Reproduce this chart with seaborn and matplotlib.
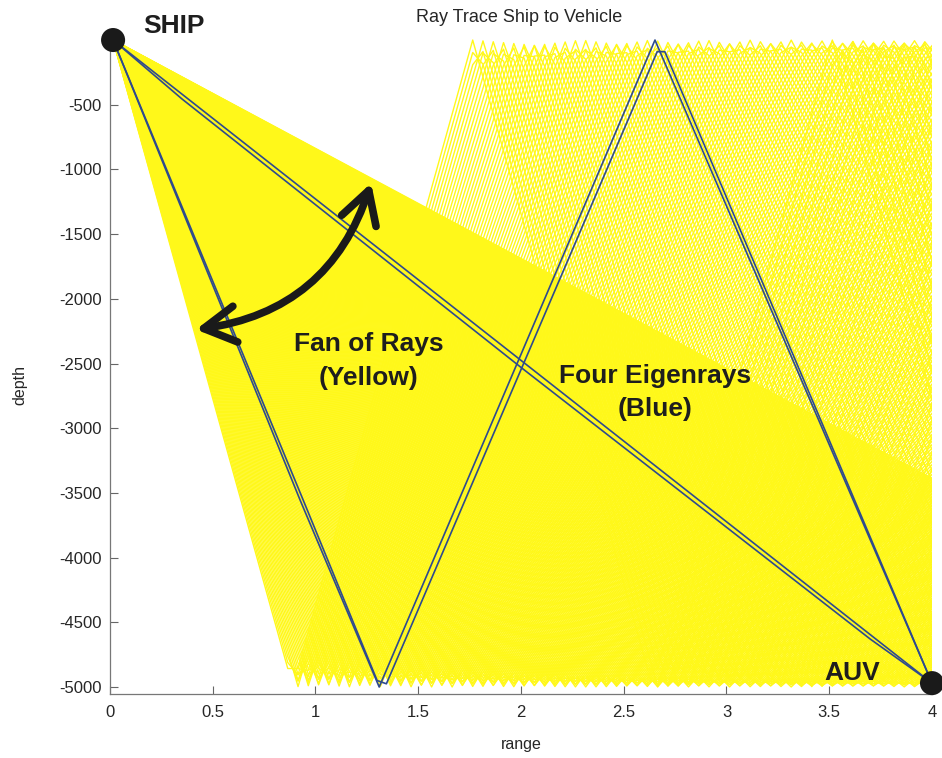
import numpy as np
import pandas as pd
import matplotlib
matplotlib.use("Agg")
import matplotlib.pyplot as plt
from matplotlib.patches import FancyArrowPatch
import seaborn as sns

# ---------------------------------------------------------------- scene
water_depth = 5000.0            # flat bottom (m)
ship_pos = (0.015, 0.0)         # source: range, depth
auv_pos = (4.0, -4970.0)        # receiver: range, depth
range_max = 4.0
range_step = 0.05               # range step of the ray tracer output

# fan of launch rays: range at which the steepest / shallowest ray first meets the bottom
fan_bottom_hit = [0.875, 5.88]
fan_ray_count = 420

# four eigenrays (range, depth vertices)
eig_a1_range = [0.015, 4.0]
eig_a1_depth = [0.0, -4970.0]
eig_a2_range = [0.015, 0.35, 2.0, 3.7, 4.0]
eig_a2_depth = [0.0, -455.0, -2530.0, -4630.0, -4970.0]
eig_b1_range = [0.015, 0.925, 1.31, 2.652, 4.0]
eig_b1_depth = [0.0, -3555.0, -5000.0, 0.0, -4970.0]
eig_b2_range = [0.015, 0.94, 1.30, 1.345, 2.663, 2.70, 4.0]
eig_b2_depth = [0.0, -3555.0, -4950.0, -4975.0, -90.0, -90.0, -4970.0]

x_ticks = [0, 0.5, 1, 1.5, 2, 2.5, 3, 3.5, 4]
x_tick_labels = ["0", "0.5", "1", "1.5", "2", "2.5", "3", "3.5", "4"]
y_ticks = [-5000, -4500, -4000, -3500, -3000, -2500, -2000, -1500, -1000, -500]
y_tick_labels = [str(v) for v in y_ticks]

# ---------------------------------------------------------------- fan geometry
# launch angles spread evenly between the steepest and shallowest ray;
# each ray bounces between surface and bottom and is sampled on the tracer's range grid
theta_steep = np.arctan(water_depth / (fan_bottom_hit[0] * 1000.0))
theta_shallow = np.arctan(water_depth / (fan_bottom_hit[1] * 1000.0))
launch = np.linspace(theta_steep, theta_shallow, fan_ray_count)
bottom_hit = water_depth / np.tan(launch) / 1000.0

grid = np.arange(ship_pos[0], range_max + range_step / 2, range_step)
frames = []
for i, b in enumerate(bottom_hit):
    phase = np.mod((grid - ship_pos[0]) / b, 2.0)
    frac = np.where(phase <= 1.0, phase, 2.0 - phase)
    frames.append(pd.DataFrame({"ray": i, "range": grid, "depth": -water_depth * frac}))
fan = pd.concat(frames, ignore_index=True)

eig_rows = []
for name, rr, dd in [("a1", eig_a1_range, eig_a1_depth), ("a2", eig_a2_range, eig_a2_depth),
                     ("b1", eig_b1_range, eig_b1_depth), ("b2", eig_b2_range, eig_b2_depth)]:
    for r, d in zip(rr, dd):
        eig_rows.append((name, r, d))
eig = pd.DataFrame(eig_rows, columns=["ray", "range", "depth"])

ends = pd.DataFrame({"range": [ship_pos[0], auv_pos[0]], "depth": [ship_pos[1], auv_pos[1]]})

# ---------------------------------------------------------------- drawing
sns.set_style("ticks")
plt.rcParams["font.family"] = ["Liberation Sans", "DejaVu Sans"]

fig = plt.figure(figsize=(9.42, 7.58), dpi=100)
ax = fig.add_axes([0.11677, 0.08443, 0.87261, 0.86702])

sns.lineplot(data=fan, x="range", y="depth", units="ray", estimator=None, sort=False,
             color="#FFF81A", lw=1.0, ax=ax, zorder=1, legend=False)
sns.lineplot(data=eig, x="range", y="depth", units="ray", estimator=None, sort=False,
             color="#2E4A8E", lw=1.2, ax=ax, zorder=3, legend=False)
sns.scatterplot(data=ends, x="range", y="depth", s=300, color="#1a1a1a", edgecolor="none",
                ax=ax, zorder=6, clip_on=False, legend=False)

ax.set_xlim(0, range_max)
ax.set_ylim(-5054, 25)
ax.set_xticks(x_ticks)
ax.set_xticklabels(x_tick_labels)
ax.set_yticks(y_ticks)
ax.set_yticklabels(y_tick_labels)
ax.tick_params(direction="in", length=6, width=0.8, color="#666666",
               labelsize=12, labelcolor="#262626")
ax.tick_params(axis="x", pad=8)
ax.tick_params(axis="y", pad=6)
sns.despine(ax=ax)
for s in ("left", "bottom"):
    ax.spines[s].set_color("#777777")
    ax.spines[s].set_linewidth(0.9)

ax.set_xlabel("range", fontsize=11.5, color="#262626")
ax.set_ylabel("depth", fontsize=11.5, color="#262626")
ax.xaxis.set_label_coords(0.5, -0.066)
ax.yaxis.set_label_coords(-0.101, 0.47)
fig.text(0.551, 1 - 17 / 758, "Ray Trace Ship to Vehicle", ha="center", va="center",
         fontsize=13, color="#262626")

# annotations
bold = dict(fontsize=19, fontweight="bold", color="#1e1e1e", ha="center", va="center")
ax.text(0.311, 108, "SHIP", clip_on=False, **bold)
ax.text(3.611, -4892, "AUV", **bold)
ax.text(1.260, -2349, "Fan of Rays", **bold)
ax.text(1.260, -2612, "(Yellow)", **bold)
ax.text(2.652, -2597, "Four Eigenrays", **bold)
ax.text(2.652, -2852, "(Blue)", **bold)

arrow = FancyArrowPatch((0.405, -2240), (1.275, -1085),
                        connectionstyle="arc3,rad=0.32",
                        arrowstyle="<->,head_length=1.15,head_width=0.65",
                        mutation_scale=20, lw=5.5, color="#1a1a1a",
                        capstyle="round", joinstyle="round", zorder=5)
ax.add_patch(arrow)

fig.savefig("out.png", dpi=100)
